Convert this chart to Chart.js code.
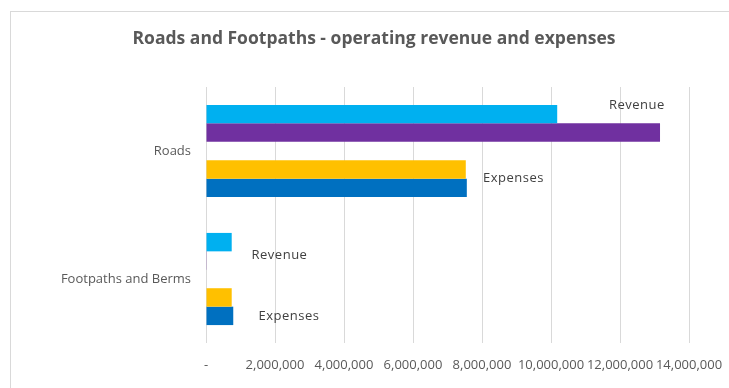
<!DOCTYPE html>
<html>
<head>
<meta charset="utf-8">
<script src="https://cdn.jsdelivr.net/npm/chart.js@4.4.1/dist/chart.umd.min.js"></script>
<style>
    html, body { margin: 0; padding: 0; background: #fff; overflow: hidden; }
    #wrap { position: relative; width: 729px; height: 388px; }
    #frame {
        position: absolute; left: 10px; top: 11px; width: 740px; height: 400px;
        border-left: 1px solid #d9d9d9; border-top: 1px solid #d9d9d9;
        box-sizing: border-box;
    }
    #chart { position: absolute; left: 0; top: 0; }
</style>
</head>
<body>
<div id="wrap">
    <div id="frame"></div>
    <canvas id="chart" width="729" height="388"></canvas>
</div>
<script>
// 分类与数据
const categories = ['Roads', 'Footpaths and Berms'];
const revenueA = [10180000, 745000];
const revenueB = [13160000, 20000];
const expensesA = [7530000, 745000];
const expensesB = [7560000, 790000];
const xTicks = [0, 2000000, 4000000, 6000000, 8000000, 10000000, 12000000, 14000000];

const chartTitle = 'Roads and Footpaths - operating revenue and expenses';

// 条形旁边的文字说明
const notes = [
    { text: 'Revenue', cat: 0, ds: 0, at: 11680000, dy: -9 },
    { text: 'Expenses', cat: 0, ds: 3, at: 8030000, dy: 9 },
    { text: 'Revenue', cat: 1, ds: 1, at: 1320000, dy: -5 },
    { text: 'Expenses', cat: 1, ds: 4, at: 1520000, dy: 0 }
];

const textGrey = '#595959';

// 标题和说明文字
const notesPlugin = {
    id: 'notes',
    afterDatasetsDraw(chart) {
        const ctx = chart.ctx;
        const x = chart.scales.x;
        ctx.save();
        ctx.font = 'bold 17.5px "Open Sans"';
        ctx.fillStyle = textGrey;
        ctx.textAlign = 'center';
        ctx.textBaseline = 'middle';
        ctx.fillText(chartTitle, 374, 39);

        ctx.font = '13px "Open Sans"';
        ctx.letterSpacing = '0.5px';
        ctx.fillStyle = '#404040';
        ctx.textAlign = 'left';
        notes.forEach(n => {
            const bar = chart.getDatasetMeta(n.ds).data[n.cat];
            ctx.fillText(n.text, x.getPixelForValue(n.at), bar.y + n.dy);
        });
        ctx.restore();
    }
};

new Chart(document.getElementById('chart'), {
    type: 'bar',
    data: {
        labels: categories,
        datasets: [
            { label: 'Revenue A', data: revenueA, backgroundColor: '#00B0F0' },
            { label: 'Revenue B', data: revenueB, backgroundColor: '#7030A0' },
            { label: '', data: [null, null], backgroundColor: 'transparent' },
            { label: 'Expenses A', data: expensesA, backgroundColor: '#FFC000' },
            { label: 'Expenses B', data: expensesB, backgroundColor: '#0070C0' }
        ]
    },
    options: {
        indexAxis: 'y',
        responsive: false,
        animation: false,
        categoryPercentage: 0.72,
        barPercentage: 1.0,
        layout: { padding: { left: 0, right: 40, top: 87, bottom: 0 } },
        plugins: {
            legend: { display: false },
            tooltip: { enabled: false },
            title: { display: false }
        },
        scales: {
            x: {
                min: 0,
                max: 14000000,
                afterBuildTicks: s => { s.ticks = xTicks.map(v => ({ value: v })); },
                afterFit: s => { s.height = 45; s.paddingLeft = 0; s.paddingRight = 0; },
                border: { display: false },
                grid: { color: '#d9d9d9', drawTicks: false },
                ticks: {
                    padding: 14,
                    color: textGrey,
                    maxRotation: 0,
                    autoSkip: false,
                    font: { family: '"Open Sans"', size: 13 },
                    callback: v => v === 0 ? '-' : v.toLocaleString('en-US')
                }
            },
            y: {
                afterFit: s => { s.width = 206; s.paddingTop = 0; s.paddingBottom = 0; },
                border: { display: false },
                grid: { display: false, drawTicks: false },
                ticks: {
                    padding: 15,
                    color: textGrey,
                    font: { family: '"Open Sans"', size: 13 }
                }
            }
        }
    },
    plugins: [notesPlugin]
});
</script>
</body>
</html>
